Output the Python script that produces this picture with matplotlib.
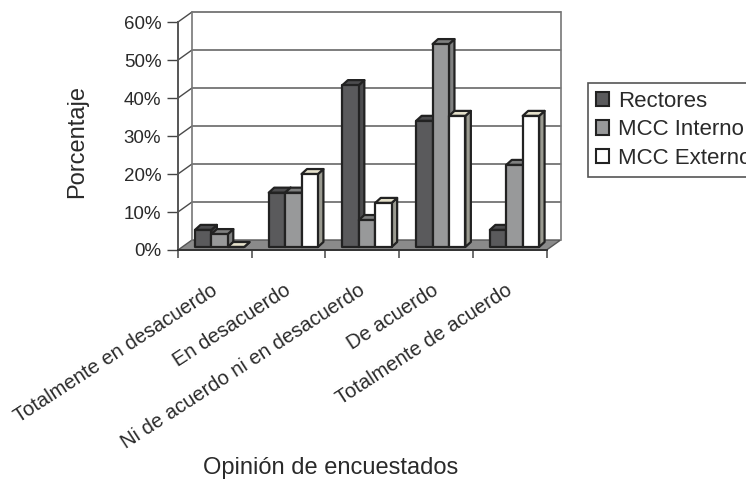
import matplotlib
matplotlib.use('Agg')
import matplotlib.pyplot as plt
from matplotlib.patches import Polygon, Patch

plt.rcParams['font.family'] = ['Liberation Sans', 'DejaVu Sans']

categories = ['Totalmente en desacuerdo', 'En desacuerdo', 'Ni de acuerdo ni en desacuerdo',
              'De acuerdo', 'Totalmente de acuerdo']
names = ['Rectores', 'MCC Interno', 'MCC Externo']
rectores = [0.045, 0.143, 0.426, 0.332, 0.045]
interno = [0.034, 0.143, 0.071, 0.534, 0.216]
externo = [0.0, 0.192, 0.116, 0.345, 0.345]
yticks = [0, 0.1, 0.2, 0.3, 0.4, 0.5, 0.6]

W, H = 746, 479
fig = plt.figure(figsize=(W / 100, H / 100), dpi=100)
left, right, top, bottom = 178, 546.6, 22, 250
ax = fig.add_axes([left / W, 1 - bottom / H, (right - left) / W, (bottom - top) / H])
ax.set_xlim(0, 5)
ax.set_ylim(0, 0.6)

px = 5 / (right - left)
py = 0.6 / (bottom - top)
DX, DY = 14 * px, 10 * py   # depth of the 3d box
EDGE = '#222222'
WALL = '#4a4a4a'
TEXT = '#2a2a2a'


def poly(points, fc, ec=EDGE, lw=1.6, z=3):
    ax.add_patch(Polygon(points, closed=True, fc=fc, ec=ec, lw=lw, zorder=z, clip_on=False, joinstyle='round'))


def bar(x0, w, v, front, side, cap, z):
    # oblique box, sits a bit inside the floor
    bx, by = 3 * px, 3 * py
    ox, oy = 5.5 * px, 5 * py
    x0 = x0 + bx
    x1 = x0 + w
    b = by
    t = by + v
    poly([(x1, b), (x1 + ox, b + oy), (x1 + ox, t + oy), (x1, t)], side, z=z)
    poly([(x0, t), (x1, t), (x1 + ox, t + oy), (x0 + ox, t + oy)], cap, z=z)
    poly([(x0, b), (x1, b), (x1, t), (x0, t)], front, z=z)


# floor and walls
ax.add_patch(Polygon([(0, 0), (5, 0), (5 + DX, DY), (DX, DY)], fc='#8a8a8a', ec='#555555', lw=1, zorder=1, clip_on=False))
for t in yticks[1:]:
    ax.plot([0, DX, 5 + DX], [t, t + DY, t + DY], color=WALL, lw=1, zorder=1, clip_on=False)
ax.plot([DX, DX], [DY, 0.6 + DY], color='#777777', lw=1.2, zorder=1, clip_on=False)
ax.plot([5 + DX, 5 + DX], [DY, 0.6 + DY], color='#777777', lw=1.2, zorder=1, clip_on=False)

styles = [('#5a5a5c', '#4c4c4e', '#4c4c4e'),
          ('#98999a', '#7f8080', '#7f8080'),
          ('#ffffff', '#9a9a90', '#e6e2cc')]
series = [rectores, interno, externo]
bw = 16.4 * px
z = 3
for i in range(len(categories)):
    start = i + 14 * px
    for j, vals in enumerate(series):
        front, side, cap = styles[j]
        bar(start + j * bw, bw, vals[i], front, side, cap, z)
        z += 1

for s in ['top', 'right']:
    ax.spines[s].set_visible(False)
ax.spines['left'].set_color('#555555')
ax.spines['bottom'].set_color('#333333')
ax.spines['left'].set_linewidth(1.4)
ax.spines['bottom'].set_linewidth(1.4)
ax.set_yticks(yticks)
ax.set_yticklabels(['{:.0f}%'.format(t * 100) for t in yticks], fontsize=13.5, color=TEXT)
ax.set_xticks(range(6))
ax.set_xticklabels([])
ax.tick_params(axis='y', length=8, width=1, color='#444444', pad=4)
ax.tick_params(axis='x', length=6, color='#555555', width=1.2)
ax.patch.set_alpha(0)

ax.set_xticks([i + 0.44 for i in range(5)], minor=True)
ax.set_xticklabels(categories, minor=True, rotation=33, ha='right', rotation_mode='anchor', fontsize=14.5, color=TEXT)
ax.tick_params(axis='x', which='minor', length=0, pad=22)

fig.text(77 / W, 1 - 141 / H, 'Porcentaje', rotation=90, ha='center', va='center', fontsize=17, color=TEXT)
fig.text(331 / W, 1 - 468 / H, 'Opinión de encuestados', ha='center', va='center', fontsize=17, color=TEXT)

handles = [Patch(fc=s[0], ec=EDGE, lw=1.5) for s in styles]
leg = fig.legend(handles, names, loc='upper left', bbox_to_anchor=(588 / W, 1 - 83 / H), fontsize=16,
                 frameon=True, fancybox=False, edgecolor='#555555', framealpha=1, borderaxespad=0,
                 handlelength=0.6, handleheight=0.6, handletextpad=0.38, labelspacing=0.33,
                 borderpad=0.36, labelcolor=TEXT)
leg.get_frame().set_linewidth(1.2)

fig.savefig('out.png', dpi=100)
